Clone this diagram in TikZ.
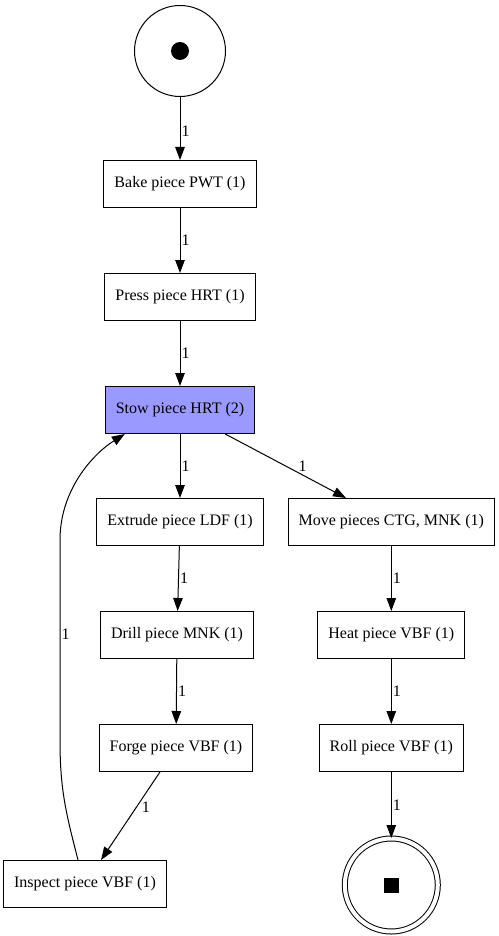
\documentclass[tikz,border=0pt]{standalone}
\usepackage{fontspec}
\setmainfont{Liberation Serif}
\usetikzlibrary{positioning,arrows.meta}

\definecolor{stowblue}{HTML}{9999FF}

\begin{document}
\begin{tikzpicture}[
		x=1pt, y=-1pt,
		>={Triangle[length=13pt,width=9.5pt]},
		line width=1pt,
		task/.style={
			draw,
			minimum height=47pt,
			inner xsep=10.5pt,
			font=\fontsize{16}{19}\selectfont
		},
		place/.style={
			draw,
			circle,
			minimum size=91pt
		},
		weight/.style={
			right,
			inner sep=1pt,
			font=\fontsize{16}{19}\selectfont
		}
		]
		
		\useasboundingbox (0,0) rectangle (498,936);
		
		%--------------------------------------------------
		% Places
		%--------------------------------------------------
		
		\node[place] (start) at (180,51) {};
		\node[circle,fill,minimum size=18pt,inner sep=0pt] (token) at (start) {};
		
		%--------------------------------------------------
		% Transitions
		%--------------------------------------------------
		
		\node[task] (bake) [below=63pt of start]
		{Bake piece PWT (1)};
		
		\node[task] (press) [below=65pt of bake]
		{Press piece HRT (1)};
		
		\node[task,fill=stowblue] (stow) [below=65pt of press]
		{Stow piece HRT (2)};
		
		\node[task] (extrude) [below=64pt of stow]
		{Extrude piece LDF (1)};
		
		\node[task] (drill) [below=65pt of extrude,xshift=-3pt]
		{Drill piece MNK (1)};
		
		\node[task] (forge) [below=65pt of drill,xshift=-1pt]
		{Forge piece VBF (1)};
		
		\node[task] (inspect) [below=88pt of forge,xshift=-91pt]
		{Inspect piece VBF (1)};
		
		\node[task] (move) [right=24pt of extrude]
		{Move pieces CTG, MNK (1)};
		
		\node[task] (heat) [below=65pt of move]
		{Heat piece VBF (1)};
		
		\node[task] (roll) [below=65pt of heat]
		{Roll piece VBF (1)};
		
		\node[place,double,double distance=4pt,minimum size=93pt] (end) [below=66pt of roll] {};
		\node[fill,minimum size=15pt,inner sep=0pt] (endtoken) at (end) {};
		
		%--------------------------------------------------
		% Arcs
		%--------------------------------------------------
		
		\draw[->]
		(start) -- node[weight,pos=0.55]{1} (bake);
		
		\draw[->]
		(bake) -- node[weight]{1} (press);
		
		\draw[->]
		(press) -- node[weight]{1} (stow);
		
		\draw[->]
		(stow) -- node[weight]{1} (extrude);
		
		\draw[->]
		(stow) -- node[weight,pos=0.6,above right,inner sep=0.5pt]{1} (move);
		
		\draw[->]
		(extrude) -- node[weight]{1} (drill);
		
		\draw[->]
		(drill) -- node[weight]{1} (forge);
		
		\draw[->]
		(forge) -- node[weight,pos=0.4,xshift=4pt]{1} (inspect);
		
		\draw[->]
		(move) -- node[weight]{1} (heat);
		
		\draw[->]
		(heat) -- node[weight]{1} (roll);
		
		\draw[->]
		(roll) -- node[weight]{1} (end);
		
		%--------------------------------------------------
		% Loop back
		%--------------------------------------------------
		
		\coordinate (loopdown) at (60,740);
		\coordinate (loopup) at (60,540);
		
		\draw[->]
		([xshift=-7pt]inspect.north)
		.. controls +(-12,-47) and +(0,50) .. (loopdown)
		-- node[weight,pos=0.53]{1} (loopup)
		.. controls +(0,-50) and +(-32,20) .. ([xshift=20pt]stow.south west);
		
	\end{tikzpicture}
\end{document}
